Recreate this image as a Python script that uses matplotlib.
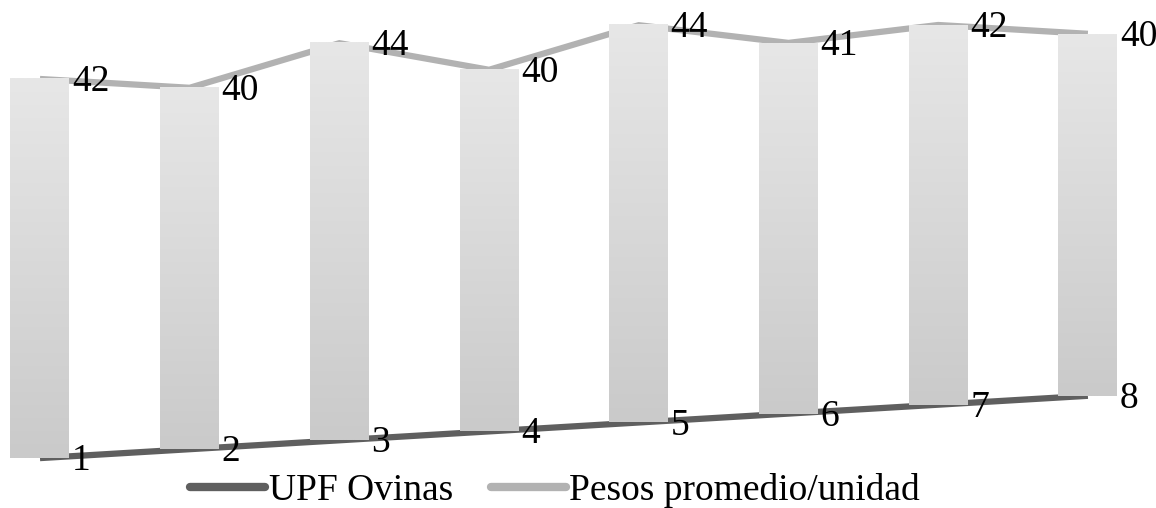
import numpy as np
import matplotlib
matplotlib.use("Agg")
import matplotlib.pyplot as plt
from matplotlib.transforms import Affine2D
from matplotlib.lines import Line2D
from matplotlib.colors import LinearSegmentedColormap

# Data
units = [1, 2, 3, 4, 5, 6, 7, 8]
upf_ovinas = [1, 2, 3, 4, 5, 6, 7, 8]
pesos_promedio = [42, 40, 44, 40, 44, 41, 42, 40]
series_names = ["UPF Ovinas", "Pesos promedio/unidad"]

W, H, DPI = 1156, 508, 100
FONT = "Liberation Serif"
FS = 27
DARK = "#5f5f5f"
LIGHT = "#b2b2b2"

fig = plt.figure(figsize=(W / DPI, H / DPI), dpi=DPI)
ax = fig.add_axes([0, 0, 1, 1])
ax.set_xlim(0.733, 8.455)
ax.set_ylim(-4.607, 52.47)
ax.axis("off")

# Back row of the 3D-style chart: rises to the right and sits a bit higher
depth = Affine2D().skew(0, np.arctan(0.0601)).translate(0, 11.8)
back = ax.transData + depth

# Up/down bars spanning the two series, with a vertical grey gradient
grad = np.linspace(0, 1, 256).reshape(-1, 1)
bar_cmap = LinearSegmentedColormap.from_list("bar", ["#cacaca", "#e7e7e7"])
half_w = 0.197
for u, lo, hi in zip(units, upf_ovinas, pesos_promedio):
    top = ax.transData.inverted().transform(back.transform((u, hi)))[1]
    ax.imshow(grad, cmap=bar_cmap, origin="lower", aspect="auto",
              extent=[u - half_w, u + half_w, lo, top],
              interpolation="bilinear", zorder=3)

# Lines
ax.plot(units, upf_ovinas, color=DARK, lw=4.5, solid_capstyle="butt",
        solid_joinstyle="miter", zorder=2)
ax.plot(units, pesos_promedio, color=LIGHT, lw=4.5, solid_capstyle="butt",
        solid_joinstyle="miter", transform=back, zorder=2)

# Data labels
for u, v in zip(units, upf_ovinas):
    ax.annotate(str(v), xy=(u, v), xytext=(23, -2), textcoords="offset points",
                ha="left", va="center", fontsize=FS, family=FONT, zorder=5)
for u, v in zip(units, pesos_promedio):
    ax.annotate(str(v), xy=(u, v), xycoords=back, xytext=(23, -2),
                textcoords="offset points", ha="left", va="center",
                fontsize=FS, family=FONT, zorder=5)

# imshow may touch the limits; restore them
ax.set_xlim(0.733, 8.455)
ax.set_ylim(-4.607, 52.47)

handles = [Line2D([], [], color=DARK, lw=6, solid_capstyle="round"),
           Line2D([], [], color=LIGHT, lw=6, solid_capstyle="round")]
fig.legend(handles, series_names, loc="center", ncol=2, frameon=False,
           bbox_to_anchor=(555 / W, 1 - 491 / H), handlelength=2.0,
           handletextpad=0.1, columnspacing=1.0,
           prop={"family": FONT, "size": FS}, borderpad=0, borderaxespad=0)

fig.savefig("out.png", dpi=DPI)
